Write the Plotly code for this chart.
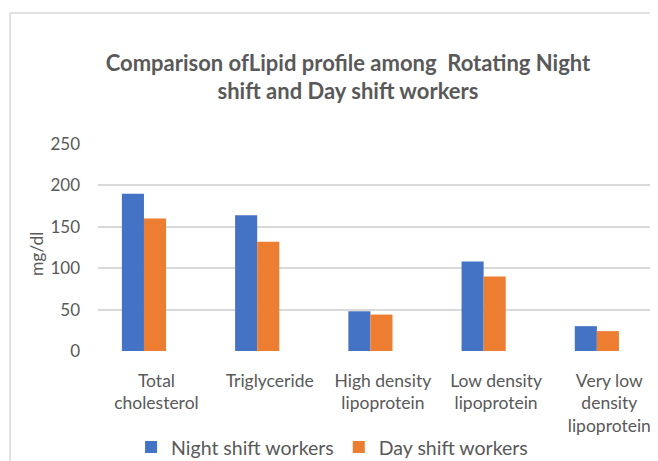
import plotly.graph_objects as go

categories = ["Total<br>cholesterol", "Triglyceride", "High density<br>lipoprotein",
              "Low density<br>lipoprotein", "Very low<br>density<br>lipoprotein"]
night_values = [190, 164, 48, 108, 30]
day_values = [160, 132, 44, 90, 24]
series_names = ["Night shift workers", "Day shift workers"]
y_ticks = [0, 50, 100, 150, 200, 250]

TXT = "#595959"
FONT = "Lato"
idx = list(range(len(categories)))
x_range = [-0.406, 4.54]
label_shift = 0.11  # category labels sit slightly right of bar centres in the reference

fig = go.Figure()
fig.add_trace(go.Bar(x=idx, y=night_values, name=series_names[0],
                     marker=dict(color="#4472C4", line=dict(width=0))))
fig.add_trace(go.Bar(x=idx, y=day_values, name=series_names[1],
                     marker=dict(color="#ED7D31", line=dict(width=0))))
# invisible helper trace so the label axis is drawn
fig.add_trace(go.Scatter(x=idx, y=night_values, xaxis="x2", mode="markers",
                         marker=dict(opacity=0), showlegend=False, hoverinfo="skip"))

fig.update_layout(
    width=658, height=461,
    margin=dict(l=90, r=8, t=136, b=118, autoexpand=False),
    paper_bgcolor="white", plot_bgcolor="white",
    font=dict(family=FONT, color=TXT, size=15),
    barmode="group", bargap=0.61, bargroupgap=0,
    title=dict(text="<b>Comparison ofLipid profile among  Rotating Night<br>shift and Day shift workers</b>",
               x=0.5167, xanchor="center", y=1 - 62.5 / 461, yanchor="middle",
               font=dict(family=FONT, size=22, color=TXT)),
    xaxis=dict(tickmode="array", tickvals=idx, ticktext=categories,
               range=x_range, showgrid=False, zeroline=False, showline=False,
               showticklabels=False, ticks="", automargin=False),
    xaxis2=dict(overlaying="x", anchor="y", side="bottom", tickmode="array", tickvals=idx,
                ticktext=categories,
                range=[x_range[0] - label_shift, x_range[1] - label_shift],
                showgrid=False, zeroline=False, showline=False, ticks="",
                ticklabelstandoff=17, automargin=False,
                tickfont=dict(size=17.5, color=TXT)),
    yaxis=dict(range=[0, 250], tickvals=y_ticks, showgrid=True, gridcolor="#D9D9D9", gridwidth=1.5,
               zeroline=False, showline=False, ticks="", ticklabelstandoff=17, automargin=False,
               tickfont=dict(size=17, color=TXT)),
    legend=dict(orientation="h", x=0.418, xanchor="center", y=-0.465, yanchor="middle",
                font=dict(size=19.5, color=TXT), itemwidth=30, traceorder="normal"),
    showlegend=True,
)
fig.add_annotation(text="mg/dl", textangle=-90, xref="paper", yref="paper",
                   x=-0.11, y=0.47, showarrow=False, xanchor="center", yanchor="middle",
                   font=dict(size=17.5, color=TXT))
fig.add_shape(type="rect", xref="paper", yref="paper", x0=-0.157, x1=1.2, y0=-1.0, y1=1.633,
              line=dict(color="#D9D9D9", width=1.5), fillcolor="rgba(0,0,0,0)", layer="below")

fig.write_html("out.html")
